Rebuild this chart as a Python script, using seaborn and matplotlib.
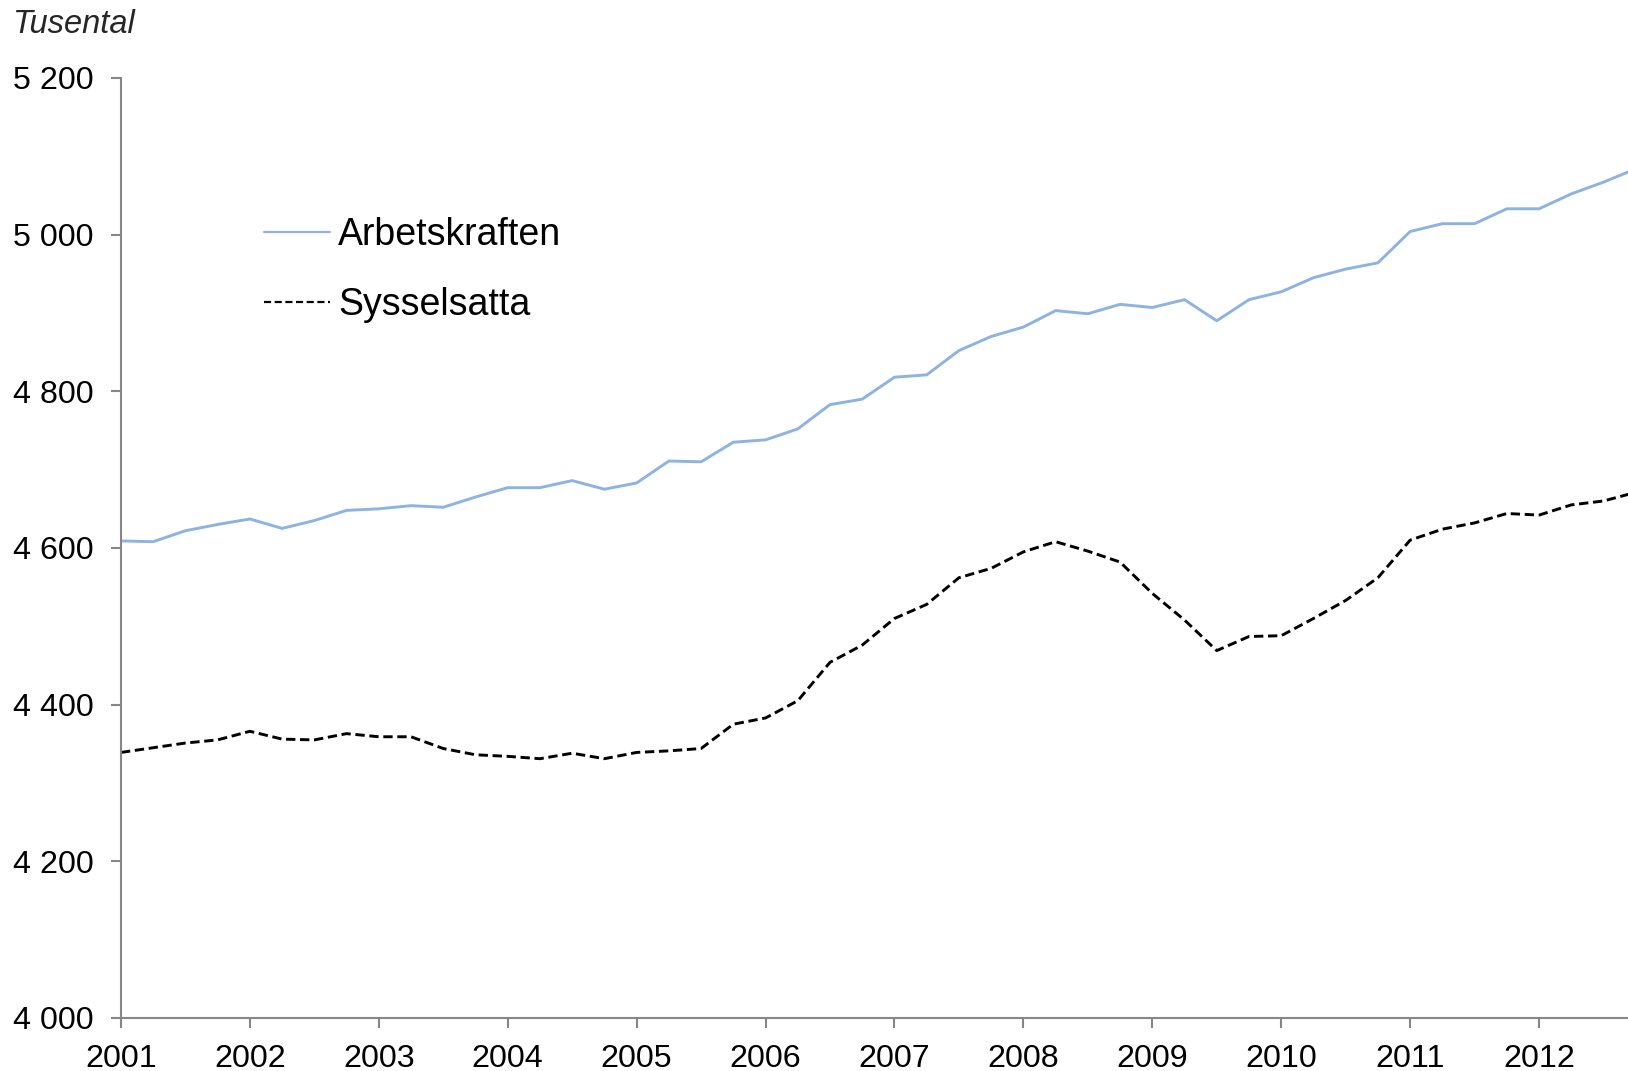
import matplotlib
matplotlib.use("Agg")
import matplotlib.pyplot as plt
import matplotlib.ticker as mticker
import numpy as np
import pandas as pd
import seaborn as sns

sns.set_style("white")
plt.rcParams['font.family'] = ['Liberation Sans', 'DejaVu Sans']

# quarterly data 2001Q1 - 2012Q4, thousands
years = [2001, 2002, 2003, 2004, 2005, 2006, 2007, 2008, 2009, 2010, 2011, 2012]
arbetskraften = [4609, 4608, 4622, 4630, 4637, 4625, 4635, 4648,
                 4650, 4654, 4652, 4665, 4677, 4677, 4686, 4675,
                 4683, 4711, 4710, 4735, 4738, 4752, 4783, 4790,
                 4818, 4821, 4852, 4870, 4882, 4903, 4899, 4911,
                 4907, 4917, 4890, 4917, 4927, 4945, 4956, 4964,
                 5004, 5014, 5014, 5033, 5033, 5052, 5067, 5084]
sysselsatta = [4339, 4345, 4351, 4355, 4366, 4356, 4355, 4363,
               4359, 4359, 4344, 4336, 4334, 4331, 4338, 4331,
               4339, 4341, 4344, 4375, 4383, 4405, 4454, 4476,
               4510, 4528, 4562, 4574, 4595, 4608, 4596, 4582,
               4542, 4508, 4469, 4487, 4488, 4510, 4533, 4562,
               4610, 4624, 4632, 4644, 4642, 4655, 4660, 4671]
y_ticks = [4000, 4200, 4400, 4600, 4800, 5000, 5200]

t = [y + q / 4 for y in years for q in range(4)]
df = pd.DataFrame({
    "t": t * 2,
    "value": arbetskraften + sysselsatta,
    "serie": ["Arbetskraften"] * len(t) + ["Sysselsatta"] * len(t),
})

fig = plt.figure(figsize=(16.28, 10.71), dpi=100)
ax = fig.add_axes([0.0743, 0.0495, 0.9257, 0.8777])

sns.lineplot(data=df, x="t", y="value", hue="serie", style="serie",
             palette={"Arbetskraften": "#8db3e2", "Sysselsatta": "black"},
             dashes={"Arbetskraften": "", "Sysselsatta": (3.2, 1.6)},
             linewidth=2.1, ax=ax, legend=True)

ax.set_xlim(2001, 2012.69)
ax.set_ylim(4000, 5200)
ax.set_xticks(years)
ax.set_yticks(y_ticks)
ax.yaxis.set_major_formatter(mticker.FuncFormatter(lambda v, p: f"{int(v):,}".replace(",", " ")))
ax.set_xlabel("")
ax.set_ylabel("")

for s in ["top", "right"]:
    ax.spines[s].set_visible(False)
for s in ["left", "bottom"]:
    ax.spines[s].set_color("#868686")
    ax.spines[s].set_linewidth(1.5)
ax.tick_params(axis="both", direction="out", length=7, width=1.5, color="#868686",
               labelsize=23.2, labelcolor="black", left=True, bottom=True)
ax.tick_params(axis="x", pad=12)
for lab in ax.get_yticklabels():
    lab.set_horizontalalignment("left")
ax.yaxis.set_tick_params(pad=71)

leg = ax.legend(loc="upper left", bbox_to_anchor=(0.095, 0.852), frameon=False,
                fontsize=27, handlelength=1.75, handletextpad=0.22,
                labelspacing=0.9, borderaxespad=0, borderpad=0)
for line in leg.get_lines():
    line.set_linewidth(1.6)
for txt in leg.get_texts():
    txt.set_color("black")

fig.text(0.0077, 0.977, "Tusental", fontsize=23.5, style="italic", ha="left", va="center")

fig.savefig("out.png", dpi=100)
